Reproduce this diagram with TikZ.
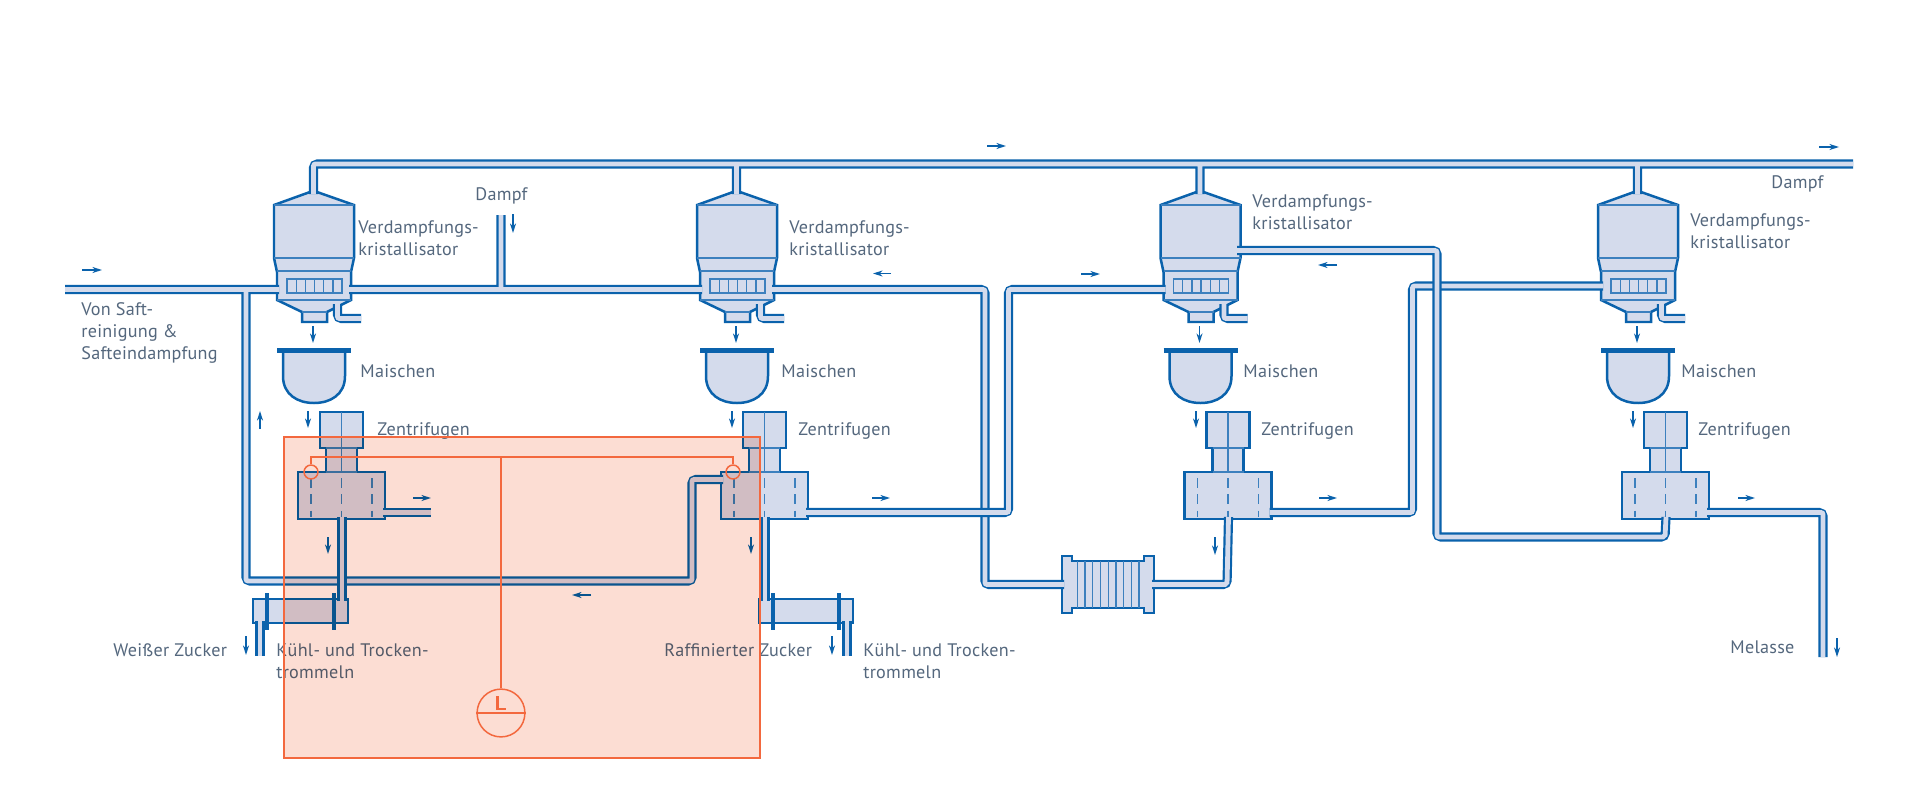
\documentclass[tikz,border=0pt]{standalone}
\usepackage{fontspec}
\setmainfont[LetterSpace=1.5]{PT Sans}
\usetikzlibrary{arrows.meta}
\definecolor{wallblue}{RGB}{10,98,172}
\definecolor{lineblue}{RGB}{60,128,190}
\definecolor{paleblue}{RGB}{212,219,236}
\definecolor{labelgrey}{RGB}{84,103,125}
\definecolor{zonefill}{RGB}{252,221,211}
\definecolor{zoneline}{RGB}{243,104,62}
\tikzset{
  x=0.501875pt,y=-0.501875pt,
  pipewall/.style={draw=wallblue,line width=4.6pt,rounded corners=2pt,line cap=butt},
  pipecore/.style={draw=paleblue,line width=2.4pt,rounded corners=1pt,line cap=butt},
  vessel/.style={draw=wallblue,fill=paleblue,line width=1.25pt,line join=miter},
  thinline/.style={draw=lineblue,line width=0.6pt},
  dashline/.style={draw=lineblue,line width=0.65pt,dash pattern=on 5pt off 3.2pt},
  flange/.style={draw=wallblue,line width=1.9pt},
  flow/.style={draw=wallblue,line width=0.7pt,-{Stealth[length=4.8pt,width=3pt]}},
  tag/.style={anchor=west,inner sep=0pt,text=labelgrey,align=left,
    font=\fontsize{9.1}{11}\selectfont},
  zone/.style={draw=zoneline,line width=0.75pt}
}
% a pipe: outer walls first, then the pale core, so that branches open into each other
\newcommand{\pipeline}[1]{\draw[pipewall] #1; \draw[pipecore] #1;}
% crystalliser, mash tank and centrifuge of one evaporation stage
\newcommand{\stage}[2]{%
\begin{scope}[shift={(#2,0)}]
  \draw[vessel] (310,192) -- (274,205) -- (274,258) -- (277,272) -- (277,300) -- (302,312)
    -- (302,322) -- (327,322) -- (327,312) -- (351,300) -- (351,272) -- (354,258) -- (354,205)
    -- (317,192) -- cycle;
  \draw[thinline] (274,205) -- (354,205) (274,258) -- (354,258) (277,271) -- (351,271)
    (277,300) -- (351,300) (302,312) -- (327,312);
  \draw[draw=lineblue,line width=0.7pt] (287,279) rectangle (342,293);
  \foreach \cx in {296.2,305.3,314.5,323.7,332.8}
    \draw[draw=lineblue,line width=0.7pt] (\cx,279) -- (\cx,293);
  % mash tank
  \draw[vessel] (283,351) -- (283,376) .. controls (283,395) and (298,403) .. (314,403)
    .. controls (330,403) and (345,395) .. (345,376) -- (345,351);
  \draw[draw=wallblue,line width=2.1pt] (277,350.5) -- (351,350.5);
  % centrifuge
  \draw[vessel] (320,412) -- (363,412) -- (363,448) -- (357,448) -- (357,472) -- (385,472)
    -- (385,519) -- (298,519) -- (298,472) -- (326,472) -- (326,448) -- (320,448) -- cycle;
  \draw[thinline] (326,448) -- (357,448) (326,472) -- (357,472) (341.5,412) -- (341.5,472);
  \draw[dashline] (311,478) -- (311,517) (341.5,478) -- (341.5,517) (372,478) -- (372,517);
  % ports used by the pipework
  \coordinate (k#1-top) at (313.5,194);
  \coordinate (k#1-w) at (279,289.5);
  \coordinate (k#1-e) at (349,289.5);
  \coordinate (k#1-drain) at (337.5,304);
  \coordinate (k#1-bend) at (337.5,318.5);
  \coordinate (k#1-end) at (361,318.5);
  \coordinate (z#1-w) at (300,479.5);
  \coordinate (z#1-e) at (383,512.5);
  \coordinate (z#1-s) at (342,517);
  % flow arrows on the stage
  \draw[flow] (313,326) -- (313,343);
\end{scope}}
\begin{document}
\begin{tikzpicture}
\useasboundingbox[fill=white] (0,0) rectangle (1920,800);

\stage{1}{0}
\stage{2}{423}
\stage{3}{886.5}
\stage{4}{1324}

% heat exchanger
\draw[vessel] (1062,556) -- (1072,556) -- (1072,561) -- (1144,561) -- (1144,556) -- (1154,556)
  -- (1154,613) -- (1144,613) -- (1144,608) -- (1072,608) -- (1072,613) -- (1062,613) -- cycle;
\foreach \hx in {1077.3,1085,1092.7,1100.5,1108.2,1116,1123.7,1131.4,1139}
  \draw[thinline] (\hx,561) -- (\hx,608);
\coordinate (hx-w) at (1064,584.5);
\coordinate (hx-e) at (1152,584.5);

% cooling and drying drums
\draw[vessel] (253,599) rectangle (348,623);
\draw[vessel] (759,599) rectangle (853,623);
\draw[flange] (267,593) -- (267,630) (334,593) -- (334,630)
  (773,593) -- (773,630) (839,593) -- (839,630);
\coordinate (d1-in) at (342,601);
\coordinate (d1-out) at (260,621);
\coordinate (d1-end) at (260,656);
\coordinate (d2-in) at (765,601);
\coordinate (d2-out) at (847,621);
\coordinate (d2-end) at (847,656);

% free ends and bends of the pipework
\coordinate (feed) at (65,289.5);
\coordinate (tee) at (246,289.5);
\coordinate (steam) at (501,215);
\coordinate (steamtee) at (501,289.5);
\coordinate (hdrL) at (313.5,164);
\coordinate (hdrR) at (1853,164);
\coordinate (r1) at (246,581);
\coordinate (r2) at (692,581);
\coordinate (r3) at (692,479.5);
\coordinate (o1) at (431,512.5);
\coordinate (a1) at (985,289.5);
\coordinate (a2) at (985,584.5);
\coordinate (c1) at (1227,584.5);
\coordinate (b1) at (1008.5,512.5);
\coordinate (b2) at (1008.5,289.5);
\coordinate (e1) at (1412.5,512.5);
\coordinate (e2) at (1412.5,286);
\coordinate (k4-w2) at (1603,286);
\coordinate (v0) at (1237,250.5);
\coordinate (v1) at (1437,250.5);
\coordinate (v2) at (1437,537);
\coordinate (v3) at (1665,537);
\coordinate (m1) at (1823,512.5);
\coordinate (m2) at (1823,657);

% vapour header with its branches
\pipeline{(hdrR) -- (hdrL) -- (k1-top)
  (k2-top |- hdrR) -- (k2-top) (k3-top |- hdrR) -- (k3-top) (k4-top |- hdrR) -- (k4-top)}
% juice feed, steam branch and return line to the second centrifuge
\pipeline{(feed) -- (k1-w) (k1-e) -- (k2-w) (steam) -- (steamtee)
  (tee) -- (r1) -- (r2) -- (r3) -- (z2-w)}
% clear juice from the second crystalliser through the heat exchanger
\pipeline{(k2-e) -- (a1) -- (a2) -- (hx-w)}
\pipeline{(hx-e) -- (c1) -- (z3-s)}
% liquor lines between the stages
\pipeline{(z1-e) -- (o1)}
\pipeline{(z2-e) -- (b1) -- (b2) -- (k3-w)}
\pipeline{(z3-e) -- (e1) -- (e2) -- (k4-w2)}
\pipeline{(v0) -- (v1) -- (v2) -- (v3) -- (z4-s)}
\pipeline{(z4-e) -- (m1) -- (m2)}
% condensate stubs below the crystallisers
\pipeline{(k1-drain) -- (k1-bend) -- (k1-end)}
\pipeline{(k2-drain) -- (k2-bend) -- (k2-end)}
\pipeline{(k3-drain) -- (k3-bend) -- (k3-end)}
\pipeline{(k4-drain) -- (k4-bend) -- (k4-end)}
% sugar lines into and out of the drums
\pipeline{(z1-s) -- (d1-in)}
\pipeline{(z2-s) -- (d2-in)}
\pipeline{(d1-out) -- (d1-end)}
\pipeline{(d2-out) -- (d2-end)}

% flow arrows
\draw[flow] (82,270) -- (102,270);
\draw[flow] (987,146) -- (1006,146);
\draw[flow] (1819,147) -- (1839,147);
\draw[flow] (413,498) -- (431,498);
\draw[flow] (872,498) -- (890,498);
\draw[flow] (1319,498) -- (1337,498);
\draw[flow] (1738,498) -- (1755,498);
\draw[flow] (1081,274) -- (1100,274);
\draw[flow] (891,273.5) -- (873,273.5);
\draw[flow] (1337,265) -- (1318,265);
\draw[flow] (591,595) -- (572,595);
\draw[flow] (513,214) -- (513,233);
\draw[flow] (308,411) -- (308,428);
\draw[flow] (732,411) -- (732,428);
\draw[flow] (1196,411) -- (1196,428);
\draw[flow] (1633,411) -- (1633,428);
\draw[flow] (328,537) -- (328,554);
\draw[flow] (751,537) -- (751,554);
\draw[flow] (1215,537) -- (1215,555);
\draw[flow] (246,636) -- (246,655);
\draw[flow] (832,636) -- (832,655);
\draw[flow] (1837,638) -- (1837,657);
\draw[flow] (260,429) -- (260,411);

% labels
\node[tag] (t-k1) at (358,238.5) {Verdampfungs-\\kristallisator};
\node[tag] (t-k2) at (789,238) {Verdampfungs-\\kristallisator};
\node[tag] (t-k3) at (1252,212) {Verdampfungs-\\kristallisator};
\node[tag] (t-k4) at (1690,231.5) {Verdampfungs-\\kristallisator};
\node[tag] (t-d1) at (475,196) {Dampf};
\node[tag] (t-d2) at (1771,184) {Dampf};
\node[tag] (t-feed) at (81,333) {Von Saft-\\reinigung \&\\Safteindampfung};
\node[tag] (t-m1) at (360,371) {Maischen};
\node[tag] (t-m2) at (781,371) {Maischen};
\node[tag] (t-m3) at (1243,371) {Maischen};
\node[tag] (t-m4) at (1681,371) {Maischen};
\node[tag] (t-z1) at (377,431) {Zentrifugen};
\node[tag] (t-z2) at (798,431) {Zentrifugen};
\node[tag] (t-z3) at (1261,431) {Zentrifugen};
\node[tag] (t-z4) at (1698,431) {Zentrifugen};
\node[tag] (t-white) at (113,650) {Weißer Zucker};
\node[tag] (t-raff) at (664,650) {Raffinierter Zucker};
\node[tag] (t-dr1) at (276,661) {Kühl- und Trocken-\\trommeln};
\node[tag] (t-dr2) at (863,661) {Kühl- und Trocken-\\trommeln};
\node[tag] (t-mel) at (1730,647) {Melasse};

% highlighted zone with its sensors, laid over the plant
\begin{scope}[blend mode=multiply]
  \fill[zonefill] (284,437) rectangle (760,758);
\end{scope}
\draw[zone] (284,437) rectangle (760,758);
\node[circle,draw=zoneline,line width=0.75pt,minimum size=7pt,inner sep=0pt] (s1) at (311,472) {};
\node[circle,draw=zoneline,line width=0.75pt,minimum size=7pt,inner sep=0pt] (s2) at (733,472) {};
\node[circle,draw=zoneline,line width=0.75pt,minimum size=24pt,inner sep=0pt] (ctl) at (501,713) {};
\coordinate (bus) at (501,457);
\draw[zone] (s1.north) -- (s1.north |- bus) -- (s2.north |- bus) -- (s2.north);
\draw[zone] (bus) -- (ctl.north);
\draw[zone] (ctl.west) -- (ctl.east);
\draw[draw=zoneline,line width=1.1pt] (497.5,696) -- (497.5,709) -- (506,709);
\end{tikzpicture}
\end{document}
